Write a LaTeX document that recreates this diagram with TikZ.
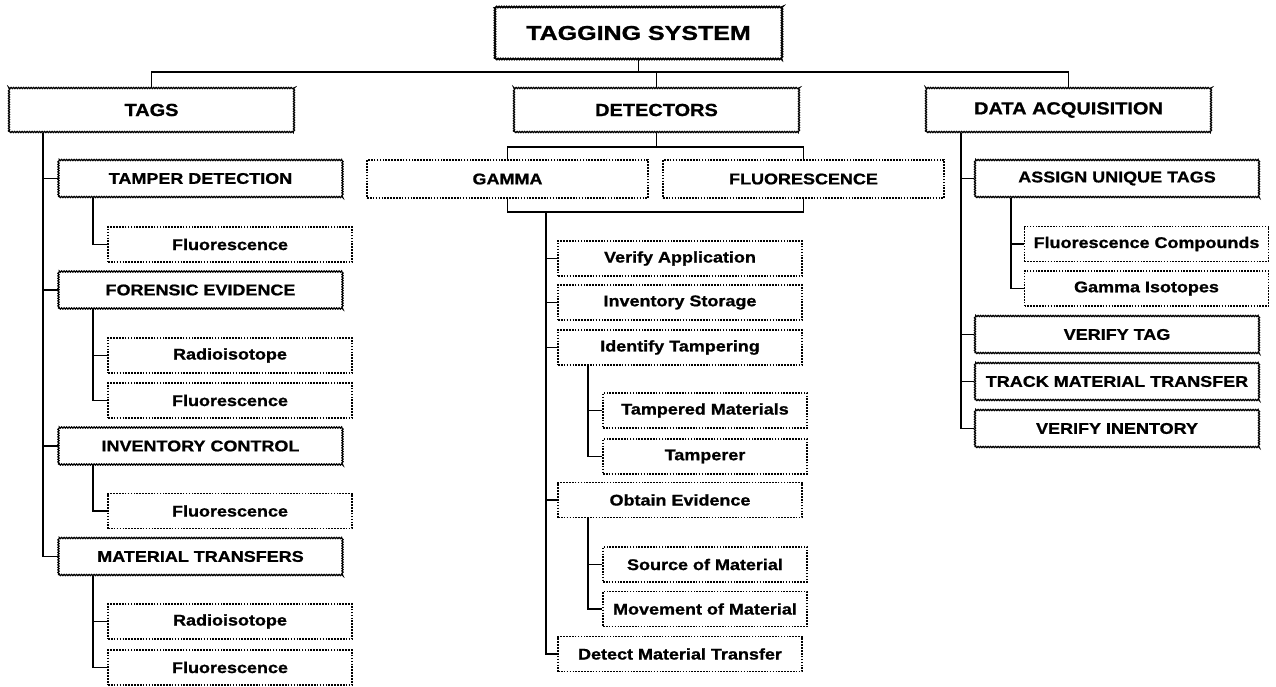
\documentclass[tikz,border=0pt]{standalone}
\usepackage{fontspec}
\usetikzlibrary{decorations.pathmorphing}
\newfontfamily\tfont[FakeStretch=1.25,FakeBold=1.2]{Liberation Sans}
\newfontfamily\hfont[FakeStretch=1.14,FakeBold=1]{Liberation Sans}
\newfontfamily\sfont[FakeStretch=1.16,FakeBold=1]{Liberation Sans}
\begin{document}
\begin{tikzpicture}[x=1pt,y=-1pt,
  conn/.style={line width=1.9pt, black},
  wavy/.style={draw, line width=1.2pt, decorate, decoration={zigzag, segment length=2.5pt, amplitude=0.6pt}},
  dotb/.style={draw, line width=1.4pt, dash pattern=on 1.6pt off 1.3pt},
  box/.style={inner sep=0pt, align=center, anchor=center},
  ttl/.style={box, wavy, line width=1.6pt, minimum width=287, minimum height=52, font=\tfont\bfseries\fontsize{20}{24}\selectfont},
  hdr/.style={box, wavy, minimum width=285, minimum height=44, font=\hfont\bfseries\fontsize{17.5}{21}\selectfont},
  det2/.style={box, dotb, minimum width=281, minimum height=38, font=\sfont\bfseries\fontsize{15.5}{19}\selectfont},
  sub/.style={box, wavy, minimum width=284, minimum height=37, font=\sfont\bfseries\fontsize{15.5}{19}\selectfont},
  leaf/.style={box, dotb, minimum width=244, minimum height=35, font=\sfont\bfseries\fontsize{15.5}{19}\selectfont},
  sleaf/.style={box, dotb, minimum width=204, minimum height=35, font=\sfont\bfseries\fontsize{15.5}{19}\selectfont}
]
\fill[white] (0,0) rectangle (1276,687);
\useasboundingbox (0,0) rectangle (1276,687);

% top level
\node[ttl] (title) at (638.5,33) {TAGGING SYSTEM};
\node[hdr] (tags) at (151.5,110) {TAGS};
\node[hdr] (det) at (656.5,110) {DETECTORS};
\node[hdr] (dacq) at (1068.5,110) {DATA ACQUISITION};

\coordinate (bus) at (0,72);
\draw[conn] (title.south) -- (title.south |- bus);
\draw[conn] (tags.north) -- (tags.north |- bus) -- (dacq.north |- bus) -- (dacq.north);
\draw[conn] (det.north) -- (det.north |- bus);

% TAGS column
\node[sub] (tamper) at (200.5,178.5) {TAMPER DETECTION};
\node[leaf] (fl1) at (230,244.5) {Fluorescence};
\node[sub] (foren) at (200.5,290) {FORENSIC EVIDENCE};
\node[leaf] (rad1) at (230,355.5) {Radioisotope};
\node[leaf] (fl2) at (230,400.5) {Fluorescence};
\node[sub] (invc) at (200.5,446) {INVENTORY CONTROL};
\node[leaf] (fl3) at (230,511) {Fluorescence};
\node[sub] (mattr) at (200.5,556.5) {MATERIAL TRANSFERS};
\node[leaf] (rad2) at (230,621.5) {Radioisotope};
\node[leaf] (fl4) at (230,667.5) {Fluorescence};

\coordinate (lt) at (43,0);
\draw[conn] (tags.south -| lt) |- (mattr.west);
\foreach \n in {tamper,foren,invc} \draw[conn] (lt |- \n.west) -- (\n.west);
\coordinate (ls) at (93,0);
\draw[conn] (tamper.south -| ls) |- (fl1.west);
\draw[conn] (foren.south -| ls) |- (fl2.west);
\draw[conn] (ls |- rad1.west) -- (rad1.west);
\draw[conn] (invc.south -| ls) |- (fl3.west);
\draw[conn] (mattr.south -| ls) |- (fl4.west);
\draw[conn] (ls |- rad2.west) -- (rad2.west);

% DETECTORS column
\node[det2] (gamma) at (507.5,179) {GAMMA};
\node[det2] (fluor) at (803.5,179) {FLUORESCENCE};
\coordinate (dbar) at (0,147);
\draw[conn] (det.south) -- (det.south |- dbar);
\draw[conn] (gamma.north) -- (gamma.north |- dbar) -- (fluor.north |- dbar) -- (fluor.north);
\coordinate (gbar) at (0,212);
\draw[conn] (gamma.south) -- (gamma.south |- gbar) -- (fluor.south |- gbar) -- (fluor.south);

\node[leaf] (va) at (680,258.5) {Verify Application};
\node[leaf] (ist) at (680,302.5) {Inventory Storage};
\node[leaf] (itm) at (680,347.5) {Identify Tampering};
\node[sleaf] (tmat) at (705,410.5) {Tampered Materials};
\node[sleaf] (tamp) at (705,456.5) {Tamperer};
\node[leaf] (oev) at (680,500) {Obtain Evidence};
\node[sleaf] (som) at (705,564.5) {Source of Material};
\node[sleaf] (mom) at (705,609) {Movement of Material};
\node[leaf] (dmt) at (680,654) {Detect Material Transfer};

\coordinate (mt) at (546,212);
\draw[conn] (mt) |- (dmt.west);
\foreach \n in {va,ist,itm,oev} \draw[conn] (mt |- \n.west) -- (\n.west);
\coordinate (ms) at (588,0);
\draw[conn] (itm.south -| ms) |- (tamp.west);
\draw[conn] (ms |- tmat.west) -- (tmat.west);
\draw[conn] (oev.south -| ms) |- (mom.west);
\draw[conn] (ms |- som.west) -- (som.west);

% DATA ACQUISITION column
\node[sub] (asg) at (1117,178.5) {ASSIGN UNIQUE TAGS};
\node[leaf] (fc) at (1146.5,244) {Fluorescence Compounds};
\node[leaf] (gi) at (1146.5,288.5) {Gamma Isotopes};
\node[sub] (vt) at (1117,334.5) {VERIFY TAG};
\node[sub] (tmt) at (1117,381.5) {TRACK MATERIAL TRANSFER};
\node[sub] (vi) at (1117,428.5) {VERIFY INENTORY};

\coordinate (rt) at (961,0);
\draw[conn] (dacq.south -| rt) |- (vi.west);
\foreach \n in {asg,vt,tmt} \draw[conn] (rt |- \n.west) -- (\n.west);
\coordinate (rs) at (1011,0);
\draw[conn] (asg.south -| rs) |- (gi.west);
\draw[conn] (rs |- fc.west) -- (fc.west);
\end{tikzpicture}
\end{document}
